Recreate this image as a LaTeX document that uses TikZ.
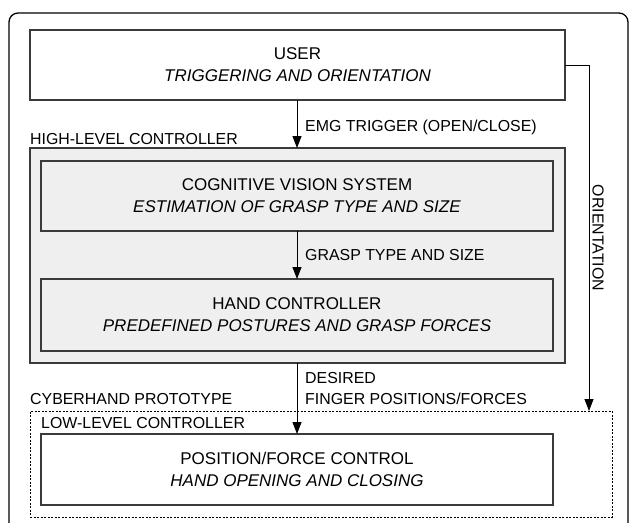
\documentclass[tikz,border=0pt]{standalone}
\usepackage{fontspec}
\setmainfont{Liberation Sans}
\usetikzlibrary{arrows.meta}
\definecolor{boxline}{HTML}{3A3A3A}
\definecolor{boxgray}{HTML}{EFEFEF}
\tikzset{
  px/.style={x=1pt,y=-1pt},
  blockbox/.style={draw=boxline,line width=1.2pt,inner sep=0pt,outer sep=0pt},
  maintext/.style={font=\fontsize{17}{22}\selectfont,align=center,inner sep=0pt},
  lbl/.style={font=\fontsize{15.9}{20}\selectfont,inner sep=0pt,anchor=base west},
  conn/.style={draw=black,line width=1pt,-{Triangle[length=12pt,width=9pt]}},
}
\begin{document}
\begin{tikzpicture}[px]
\useasboundingbox (0,0) rectangle (629,522);
\clip (0,0) rectangle (629,522);
% outer frame
\draw[line width=1.3pt,rounded corners=9pt] (9,560) -- (9,13) -- (628,13) -- (628,560);
% user box
\node[blockbox,fill=white,minimum width=535pt,minimum height=70pt] (user) at (297.5,65) {};
\node[maintext] (usertext) at (user.center) {USER\\\textit{TRIGGERING AND ORIENTATION}};
% high-level controller
\node[lbl] (hlc) at (30,144) {HIGH-LEVEL CONTROLLER};
\node[blockbox,fill=boxgray,minimum width=535pt,minimum height=215pt] (high) at (297.5,255.5) {};
\node[blockbox,fill=boxgray,minimum width=512pt,minimum height=70pt] (cog) at (297,196) {};
\node[maintext] (cogtext) at (cog.center) {COGNITIVE VISION SYSTEM\\\textit{ESTIMATION OF GRASP TYPE AND SIZE}};
\node[blockbox,fill=boxgray,minimum width=512pt,minimum height=72pt] (hand) at (297,315) {};
\node[maintext] (handtext) at (hand.center) {HAND CONTROLLER\\\textit{PREDEFINED POSTURES AND GRASP FORCES}};
% cyberhand
\node[lbl] (cyb) at (30,404) {CYBERHAND PROTOTYPE};
\node[draw=black,line width=1pt,dash pattern=on 2pt off 1.5pt,minimum width=582pt,minimum height=106pt,inner sep=0pt,outer sep=0pt] (proto) at (321,464) {};
\node[lbl] (llc) at (41,428) {LOW-LEVEL CONTROLLER};
\node[blockbox,fill=white,minimum width=512pt,minimum height=71pt] (pos) at (297,469.5) {};
\node[maintext] (postext) at (pos.center) {POSITION/FORCE CONTROL\\\textit{HAND OPENING AND CLOSING}};
% connectors
\coordinate (emgtop) at (297,100);
\coordinate (emgbot) at (297,148);
\draw[conn] (emgtop) -- (emgbot);
\node[lbl] (emg) at (305,131) {EMG TRIGGER (OPEN/CLOSE)};
\coordinate (gtop) at (297,231);
\coordinate (gbot) at (297,279);
\draw[conn] (gtop) -- (gbot);
\node[lbl] (grasp) at (305,260) {GRASP TYPE AND SIZE};
\coordinate (dtop) at (297,363);
\coordinate (dbot) at (297,434);
\draw[conn] (dtop) -- (dbot);
\node[lbl] (des1) at (305,383) {DESIRED};
\node[lbl] (des2) at (305,404) {FINGER POSITIONS/FORCES};
\coordinate (ostart) at (565,65);
\coordinate (ocorner) at (589,65);
\coordinate (oend) at (589,411);
\draw[conn] (ostart) -- (ocorner) -- (oend);
\node[font=\fontsize{15.9}{20}\selectfont,inner sep=0pt,rotate=-90] (orient) at (598,238) {ORIENTATION};
\end{tikzpicture}
\end{document}
